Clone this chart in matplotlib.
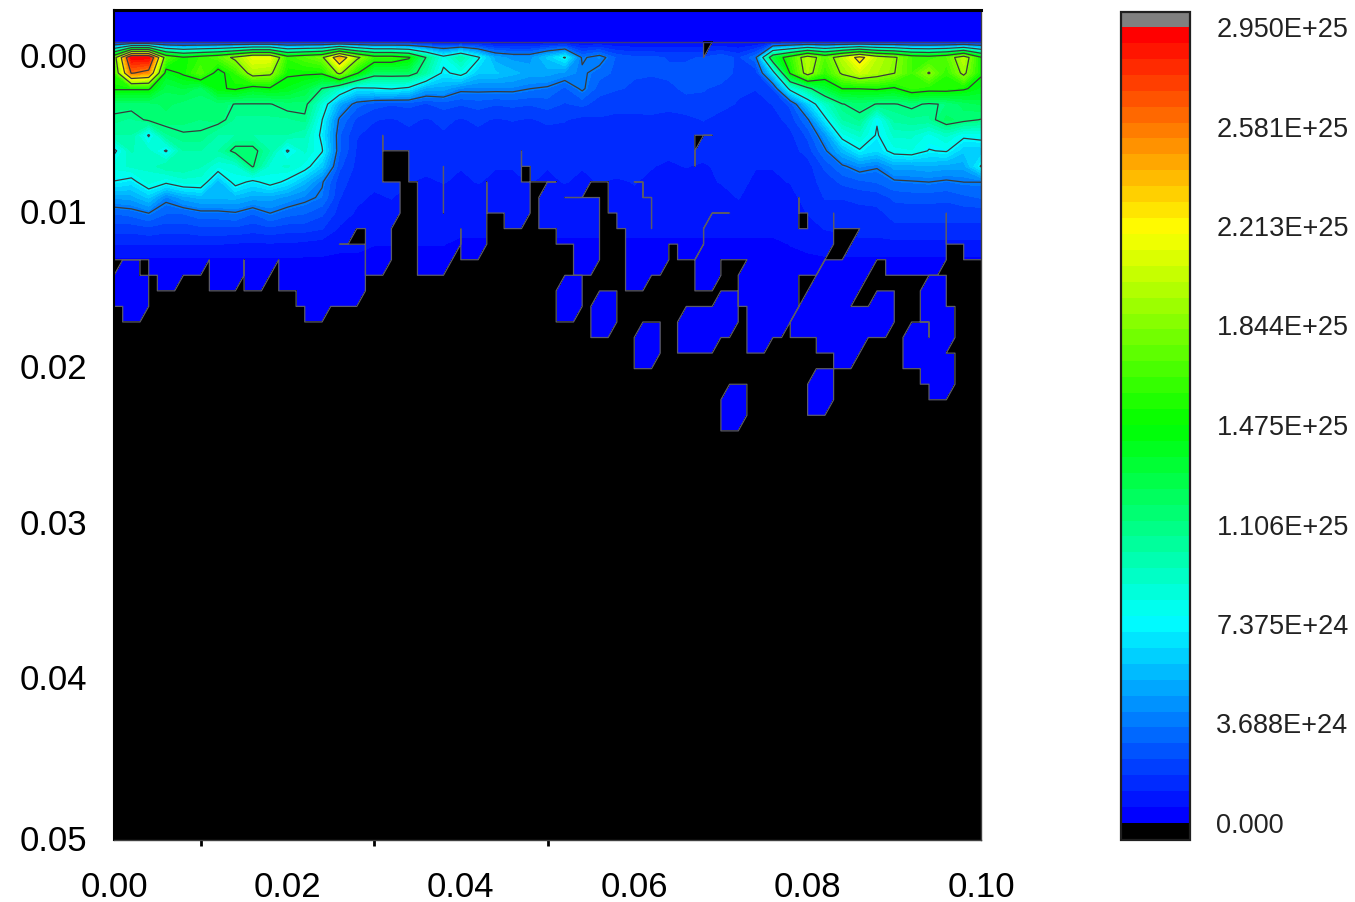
import numpy as np
import matplotlib
matplotlib.use("Agg")
import matplotlib.pyplot as plt
import matplotlib.tri as mtri
from matplotlib.colors import LinearSegmentedColormap, BoundaryNorm
from matplotlib.cm import ScalarMappable
from matplotlib.transforms import ScaledTranslation

# Field values in units of 1e24, nodes every 0.002 in x, 0.001 in depth
heat_r00 = [0.5]*51
heat_r01 = [17,29.3,29.3,17,15,16,17,19,21.5,21.5,16,17,18,24.5,19,16,16,15,11,8,10,7.6,5,4.5,4.5,6,
            7.5,3.5,4.2,2.8,2.5,2.5,2.3,2.3,2.4,2.8,2.2,3.4,13,16,20,17,20,23,20,18.8,16.5,16,17,20,15]
heat_r02 = [16,26,25,14,15,17,14,16,19.5,19,15,15,15,19,15,12,12,12,10,7,8,6,6,5.5,5,5,
            4.5,3.9,3.2,2.8,2.4,2.4,2.5,2.5,2.5,2.7,2.2,1.9,6.5,15,19.5,16,18.8,20.5,19.5,18.5,16.5,18.6,16,19,15]
heat_r03 = [15,15,15,12.5,13,12,14.5,15,14,14.5,14,13,11,9,7,7.2,7.5,7,5,5,4,4,4,4,3.7,3.5,
            2.8,3.9,2.6,2.4,2.3,2.2,2.2,2.5,2.4,2.2,1.9,1.8,2.4,8,10.5,13,14.8,14.8,15,14.5,16,15.5,15.5,15,14]
heat_r04 = [11.5,11.5,11.5,12,11.5,11.5,11.5,11,11,11,11.5,11.5,8.5,5,3.2,2.6,2.4,2.5,2.3,2.6,2.4,2.6,2.4,2.5,2.4,2.6,
            2.3,2.5,2.1,2,2.2,1.9,2,2.1,2.2,2,1.7,1.5,1.8,2.5,6,9,11,11.5,11,11,11.3,10.9,11.2,12,12.5]
heat_r05 = [10.8,10.5,11.3,11.5,11.3,11.2,11.5,10.5,10.5,10.5,10.5,10.8,7.4,3.5,2.2,1.8,1.7,1.9,1.7,1.9,1.7,1.9,1.7,1.8,1.7,1.9,
            1.8,1.6,1.7,1.6,1.5,1.7,1.5,1.6,1.8,1.5,1.4,1.3,1.5,2,3.5,7,10,10.7,7.5,10.2,10.5,10.5,12,11.5,11]
heat_r06 = [10,10,7.2,10.5,11,11,10,10,10,10,10,9.5,7,3,1.8,1.6,1.4,1.6,1.5,1.7,1.5,1.6,1.4,1.5,1.4,1.5,
            1.6,1.3,1.5,1.4,1.3,1.6,1.4,1.3,1.5,1.4,1.3,1.2,1.2,1.6,2.5,4.5,8,9,7.2,9,9,8,9,7.7,8]
heat_r07 = [7,9.5,9,7.2,10,10,10,11.5,11.5,10,7.2,9,7.5,3,1.7,1.4,1.5,1.3,1.3,1.5,1.3,1.4,1.2,1.4,1.3,1.4,
            1.2,1.3,1.4,1.2,1.4,1.2,1.3,1.2,1.4,1.3,1.4,1.2,1.3,1.5,2,3.5,5.5,7.2,6.5,8,8.2,7.3,7.5,6,6]
heat_r08 = [8.5,9,9,10,10,9.5,8.3,8.5,11.2,8.5,9,8,6,2.5,1.6,1.3,1.4,1.2,1.3,1.3,1.2,1.3,1.2,1.2,1.3,1.2,
            1.3,1.2,1.3,1.4,1.2,1.2,1.1,1.2,1.1,1.3,1.4,1.2,1.2,1.4,1.5,2.5,3.5,4.2,3.8,5,5,5.2,5,5,7.5]
heat_r09 = [7.3,6.8,8.5,7.7,8.5,8.5,5.5,8,7,8,7,5.5,3.8,2,1.5,1.3,1.3,1.2,1.1,1.2,1.1,1.2,1.1,1.1,1.2,1.1,
            1.2,1.1,1.2,1.1,1.2,1.1,1.1,1,1.1,1.2,1.3,1.1,1.1,1.2,1.5,2,2.5,2.8,3,3.5,3.6,3.7,3.5,3.7,3.7]
heat_r10 = [4.8,5,6,4,5,5.5,5.5,5.5,5,5,4.5,4,3.5,1.8,1.3,1.1,1.2,1,1.1,1,1.1,1,1,1.1,1,1,
            1,1,1.1,1,1.1,1,1,1.1,1,1,1.2,1,1,1,1.4,1.8,1.8,1.9,2,2.5,2.6,2.6,2.5,2.8,3]
heat_r11 = [3,3.2,3.7,3,3,3.4,3.4,3.6,3,3.7,3.2,3,2.5,1.5,1.1,1,1,0.9,1,0.9,0.9,0.9,0.9,0.9,0.9,0.9,
            0.9,0.9,0.9,0.9,0.9,0.9,0.9,0.9,0.9,0.9,1,0.9,0.9,0.9,1.2,1.5,1.5,1.6,1.6,2,2,2,2,2,2]
heat_r12 = [2,2,2.2,2,2,2.2,2.2,2.2,2,2.2,2,2,1.8,1.1,0.9,0.9,0.9,0.8,0.8,0.8,0.7,0.7,0.7,0.7,0.7,0.7,
            0.7,0.7,0.7,0.7,0.7,0.7,0.7,0.7,0.7,0.7,0.7,0.7,0.7,0.8,1,1.2,1.3,1.4,1.4,1.6,1.6,1.6,1.6,1.6,1.6]
heat_r13 = [1.2,1.2,1.2,1.2,1.2,1.2,1.2,1.1,1.1,1.1,1.1,1,0.9,0.7,0.7,0.6,0.6,0.6,0.6,0.6,0.5,0.5,0.5,0.5,0.5,0.5,
            0.5,0.5,0.5,0.5,0.5,0.5,0.5,0.5,0.5,0.5,0.5,0.5,0.5,0.6,0.7,0.9,0.9,1,1,1,1,1,1,1,1]
heat_r14 = [0.5]*51
heat_r15 = [0.2]*51
heat_rows = [heat_r00, heat_r01, heat_r02, heat_r03, heat_r04, heat_r05, heat_r06, heat_r07,
             heat_r08, heat_r09, heat_r10, heat_r11, heat_r12, heat_r13, heat_r14, heat_r15]

# Spans of non-zero nodes per depth row, nodes every 0.001 in x and depth
nonzero_spans = [
    [(0,67),(70,100)], [(0,67),(69,100)], [(0,100)], [(0,100)], [(0,100)], [(0,100)],
    [(0,30),(32,66),(70,100)],
    [(0,30),(35,46),(48,66),(68,100)],
    [(0,30),(35,37),(39,46),(49,66),(68,100)],
    [(0,30),(36,37),(39,42),(44,46),(52,54),(58,59),(62,100)],
    [(0,32),(36,37),(39,42),(44,47),(50,51),(58,60),(63,78),(80,100)],
    [(0,32),(36,37),(39,42),(46,47),(50,55),(59,61),(63,68),(72,78),(81,82),(84,95),(97,100)],
    [(0,27),(30,31),(36,39),(41,42),(52,55),(60,61),(63,67),(69,78),(81,82),(87,95),(97,100)],
    [(0,25),(30,31),(36,39),(41,42),(54,55),(60,63),(66,67),(69,82),(86,95),(99,100)],
    [(5,10),(12,14),(16,18),(20,28),(30,31),(36,38),(54,55),(60,63),(68,69),(74,81),(85,87),(90,95)],
    [(1,2),(6,7),(12,14),(16,17),(20,28),(60,61),(68,69),(73,78),(82,86)],
    [(0,3),(22,28),(52,53),(73,78),(81,85),(94,95)],
    [(2,3),(23,24),(52,53),(56,57),(70,71),(74,78),(80,84),(88,89),(94,95)],
    [(56,57),(66,71),(74,77),(79,89),(95,96)],
    [(61,62),(66,69),(74,75),(82,86),(92,93),(95,96)],
    [(61,62),(84,85),(92,95)],
    [(94,96)],
    [(81,82),(95,96)],
    [(71,72),(81,82)],
    [(71,72)],
]

x_ticks = [0.00, 0.02, 0.04, 0.06, 0.08, 0.10]
x_minor = [0.01, 0.03, 0.05]
y_ticks = [0.00, 0.01, 0.02, 0.03, 0.04, 0.05]
cbar_values = [29.5, 25.81, 22.13, 18.44, 14.75, 11.06, 7.375, 3.688, 0.0]
cbar_labels = ["2.950E+25", "2.581E+25", "2.213E+25", "1.844E+25", "1.475E+25",
               "1.106E+25", "7.375E+24", "3.688E+24", "0.000"]
contour_values = [3.688, 7.375, 11.06, 14.75, 18.44, 22.13, 25.81]
y_surface = -0.00084

W, H = 1355, 902
plt.rcParams["font.family"] = ["Liberation Sans", "DejaVu Sans"]
fig = plt.figure(figsize=(W / 100, H / 100), dpi=100)
ax = fig.add_axes([114 / W, 1 - 840 / H, (981 - 114) / W, (840 - 10) / H])

cmap = LinearSegmentedColormap.from_list(
    "rainbow5", ["#0000ff", "#00ffff", "#00ff00", "#ffff00", "#ff0000"], N=50)
cmap.set_over("#808080")
cmap.set_under("#000000")
levels = np.linspace(0, 29.5, 51)
norm = BoundaryNorm(levels, 50)

ax.set_facecolor("#0000ff")
heat = np.array(heat_rows, dtype=float)
xh = np.arange(heat.shape[1]) * 0.002
yh = y_surface + np.arange(heat.shape[0]) * 0.001
ax.contourf(xh, yh, heat, levels=levels, cmap=cmap, norm=norm)
ax.contour(xh, yh, heat, levels=contour_values, colors="#3a3a3a", linewidths=0.9)

# Non-zero support on the fine triangular mesh
nk, nr = 101, 54
sup = np.zeros((nr, nk))
for r, spans in enumerate(nonzero_spans):
    for a, b in spans:
        sup[r, a:b + 1] = 1.0
kk, rr = np.meshgrid(np.arange(nk), np.arange(nr))
idx = lambda k, r: r * nk + k
tris = []
for r in range(nr - 1):
    for k in range(nk - 1):
        tris.append((idx(k, r), idx(k + 1, r), idx(k, r + 1)))
        tris.append((idx(k + 1, r), idx(k + 1, r + 1), idx(k, r + 1)))
tri = mtri.Triangulation((kk * 0.001).ravel(), (y_surface + rr * 0.001).ravel(), tris)
ax.tricontourf(tri, sup.ravel(), levels=[-1, 0.002], colors="#000000")
ax.tricontour(tri, sup.ravel(), levels=[0.002], colors="#5a5a6a", linewidths=0.9)
ax.axhline(y_surface, color="#3a3a7a", lw=1.0)

ax.set_xlim(0, 0.1)
ax.set_ylim(0.05045, -0.00289)
ax.set_xticks(x_ticks)
ax.set_xticklabels([f"{v:.2f}" for v in x_ticks], fontsize=25)
ax.set_xticks(x_minor, minor=True)
ax.set_yticks(y_ticks)
ax.set_yticklabels([f"{v:.2f}" for v in y_ticks], fontsize=25)
ax.tick_params(axis="x", which="major", length=0, pad=22)
ax.tick_params(axis="x", which="minor", length=4, width=2, color="black")
ax.tick_params(axis="y", which="major", length=0, pad=19)
last = ax.get_yticklabels()[-1]
last.set_transform(last.get_transform() + ScaledTranslation(0, -5 / 100, fig.dpi_scale_trans))
ax.spines["top"].set_linewidth(2.2)
ax.spines["left"].set_linewidth(1.5)
ax.spines["right"].set_linewidth(1.0)
ax.spines["right"].set_color("#404040")
ax.spines["bottom"].set_linewidth(1.0)
ax.spines["bottom"].set_color("#404040")

cax = fig.add_axes([1121 / W, 1 - 840 / H, (1190 - 1121) / W, (840 - 12) / H])
sm = ScalarMappable(norm=norm, cmap=cmap)
cb = fig.colorbar(sm, cax=cax, extend="both", extendrect=True,
                  extendfrac=[17 / 796, 15 / 796], drawedges=False,
                  ticks=cbar_values, spacing="proportional")
cb.ax.set_yticklabels(cbar_labels, fontsize=19.5, color="#222222")
cb.ax.minorticks_off()
cb.ax.tick_params(length=0, pad=19)
cb.outline.set_linewidth(1.6)
cb.outline.set_edgecolor("#202020")

fig.savefig("out.png", dpi=100)
